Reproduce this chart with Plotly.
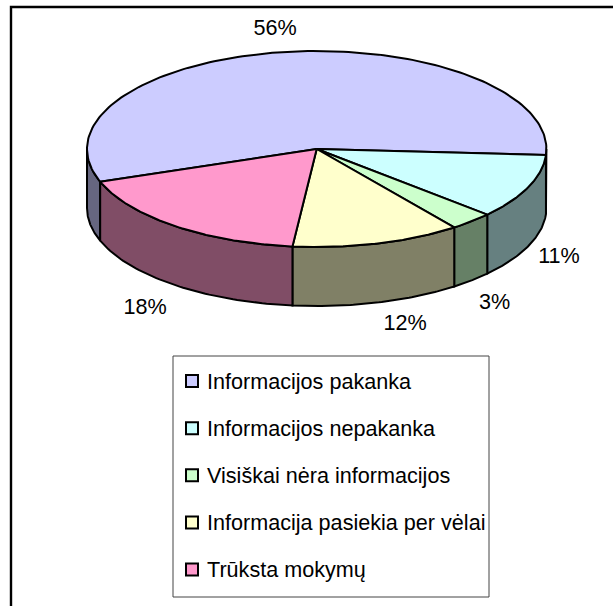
import numpy as np
import plotly.graph_objects as go

categories = ["Informacijos pakanka", "Informacijos nepakanka", "Visiškai nėra informacijos",
              "Informacija pasiekia per vėlai", "Trūksta mokymų"]
values = [56.4, 10.7, 3.1, 11.9, 17.9]
top_colors = ["#CCCCFF", "#CCFFFF", "#CCFFCC", "#FFFFCC", "#FF99CC"]
side_colors = ["#666680", "#668080", "#668066", "#808066", "#804D66"]

W, H = 613, 606
cx, cy, rx, ry, depth = 316.7, 149, 229.7, 98, 59
start_deg = 199.5  # math angle where the big slice begins, sweeping clockwise
label_xy = [(275, 30), (559, 258), (494.5, 304), (405, 325), (145, 309)]
FONT = "Liberation Sans"
FS = 21.6

fracs = np.array(values, float) / sum(values)
edges = start_deg - 360 * np.concatenate([[0], np.cumsum(fracs)])
value_labels = [f"{round(v)}%" for v in values]


def pt(a_deg, dz=0.0):
    a = np.radians(a_deg)
    return cx + rx * np.cos(a), cy - ry * np.sin(a) + dz


fig = go.Figure()
line = dict(color="black", width=2)

# side walls: the part of each slice's rim facing the viewer
for i in range(len(values)):
    a0, a1 = edges[i], edges[i + 1]
    for shift in (0, -360, 360):
        lo = max(a1 + shift, -180)
        hi = min(a0 + shift, 0)
        if hi <= lo:
            continue
        th = np.linspace(hi, lo, 60)
        xt, yt = pt(th)
        xb, yb = pt(th[::-1], depth)
        fig.add_trace(go.Scatter(x=np.r_[xt, xb, xt[0]], y=np.r_[yt, yb, yt[0]], mode="lines",
                                 fill="toself", fillcolor=side_colors[i], line=line,
                                 hoverinfo="skip", showlegend=False))

# top faces
for i in range(len(values)):
    th = np.linspace(edges[i], edges[i + 1], 160)
    xt, yt = pt(th)
    fig.add_trace(go.Scatter(x=np.r_[cx, xt, cx], y=np.r_[cy, yt, cy], mode="lines",
                             fill="toself", fillcolor=top_colors[i], line=line,
                             name=categories[i], hoverinfo="skip", showlegend=False))

# percentage labels
fig.add_trace(go.Scatter(x=[p[0] for p in label_xy], y=[p[1] for p in label_xy], mode="text",
                         text=value_labels, textposition="middle center",
                         textfont=dict(family=FONT, size=FS, color="black"),
                         hoverinfo="skip", showlegend=False))

# legend box, swatches and entries
legend_x0, legend_x1, legend_y0, legend_y1 = 173, 489, 356, 597
swatch_x, text_x = 192, 206
row_y = np.linspace(381, 569.5, len(categories))
fig.add_trace(go.Scatter(x=[swatch_x] * len(categories), y=row_y, mode="markers",
                         marker=dict(symbol="square", size=12, color=top_colors,
                                     line=dict(color="black", width=2)),
                         hoverinfo="skip", showlegend=False))
annotations = [dict(x=text_x, y=y, xref="x", yref="y", text=c, showarrow=False, xanchor="left",
                    yanchor="middle", borderpad=0, font=dict(family=FONT, size=FS, color="black"))
               for c, y in zip(categories, row_y)]

fig.update_layout(
    width=W, height=H, margin=dict(l=0, r=0, t=0, b=0), paper_bgcolor="white", plot_bgcolor="white",
    showlegend=False,
    xaxis=dict(range=[0, W], visible=False, fixedrange=True),
    yaxis=dict(range=[H, 0], visible=False, fixedrange=True),
    annotations=annotations,
    shapes=[
        dict(type="rect", xref="x", yref="y", x0=11, y0=7, x1=W + 10, y1=H + 10,
             line=dict(color="black", width=2.4), layer="below"),
        dict(type="rect", xref="x", yref="y", x0=legend_x0, y0=legend_y0, x1=legend_x1, y1=legend_y1,
             line=dict(color="#444444", width=1), fillcolor="white", layer="below"),
    ],
)
fig.write_html("out.html", post_script="document.body.style.margin='0';",
               config={"displayModeBar": False})
